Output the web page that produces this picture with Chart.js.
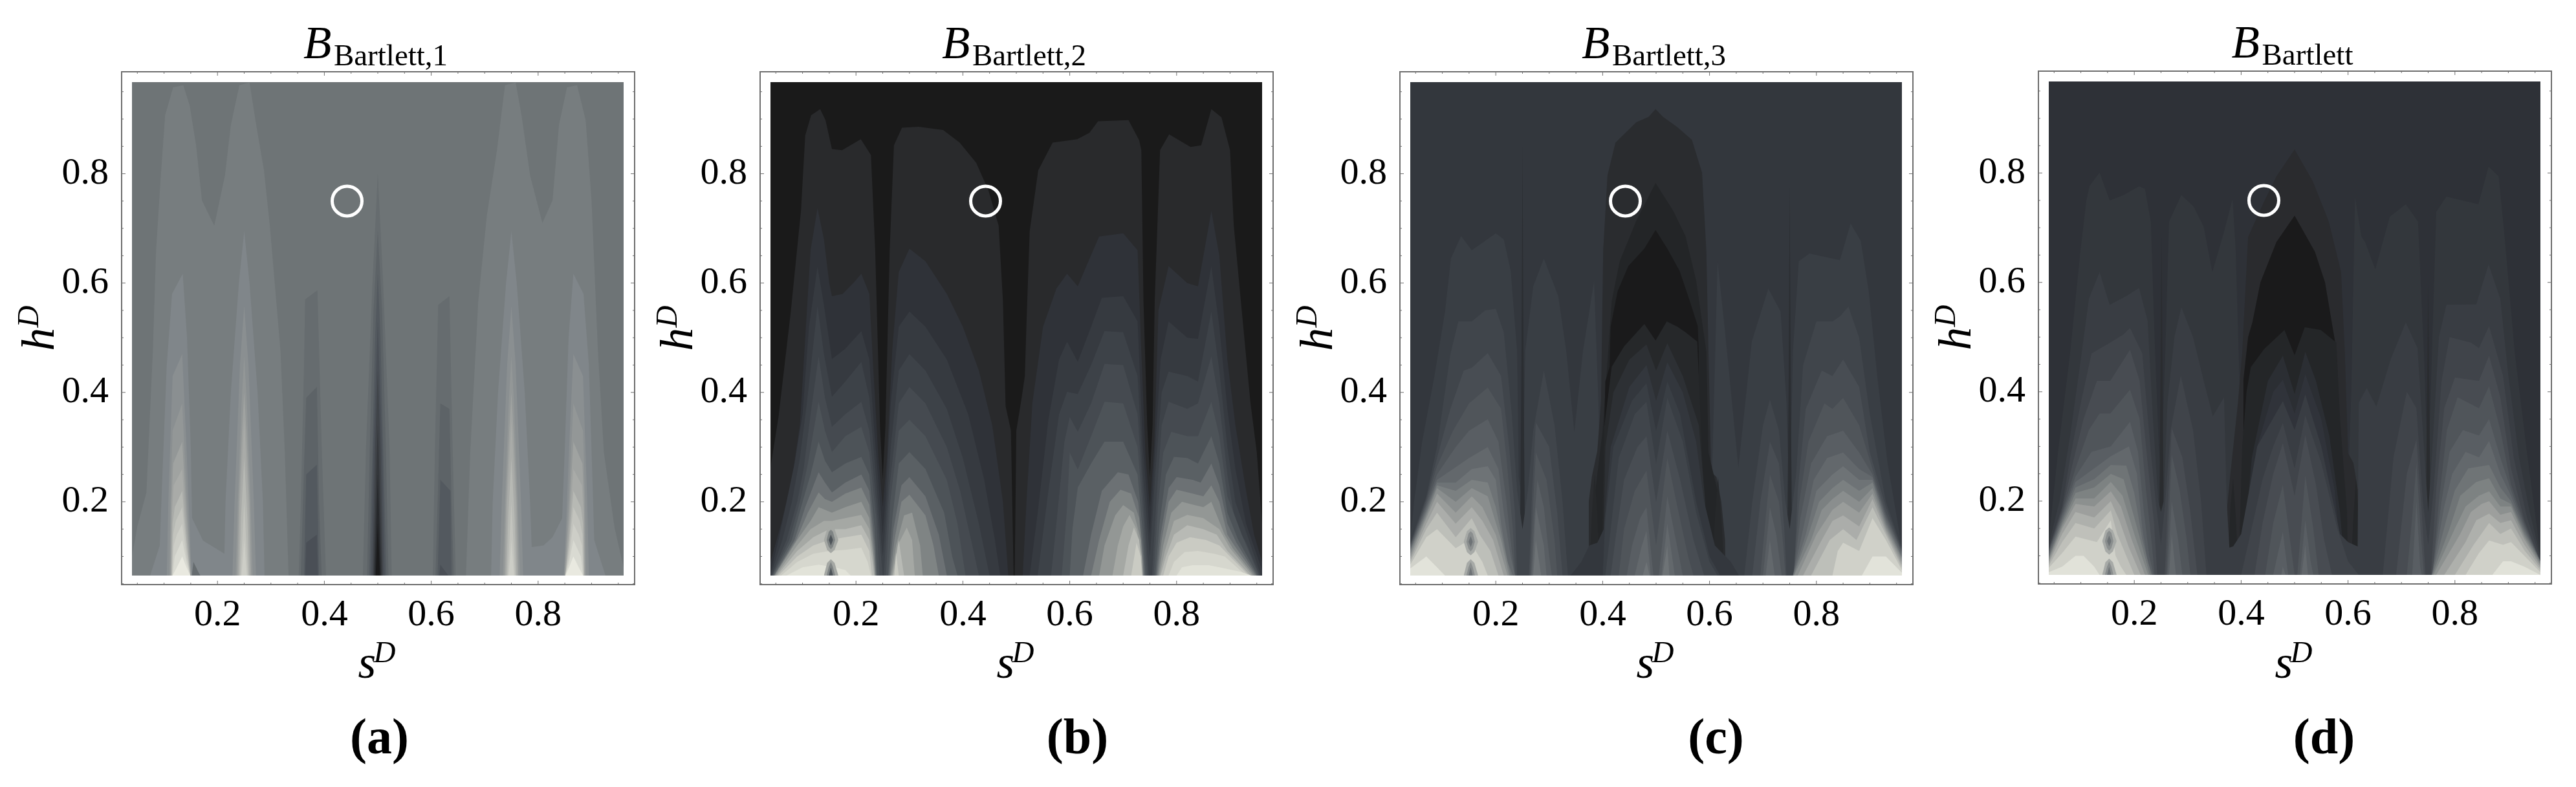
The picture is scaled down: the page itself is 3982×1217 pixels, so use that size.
<!DOCTYPE html>
<html>
<head>
<meta charset="utf-8">
<title>Bartlett contours</title>
<script src="https://cdn.jsdelivr.net/npm/chart.js@4"></script>
<style>
html, body { margin: 0; padding: 0; background: #fff; overflow: hidden; }
canvas { position: absolute; top: 0; }
</style>
</head>
<body>
<script>
// axis values
const tickValues = [0.2, 0.4, 0.6, 0.8];
const minorTicks = [0.05, 0.1, 0.15, 0.25, 0.3, 0.35, 0.45, 0.5, 0.55, 0.65, 0.7, 0.75, 0.85, 0.9, 0.95];
const xLimits = [0.0206, 0.9806];
const yLimits = [0.0485, 0.9864];
const hBase = 0.065;
const hTop = 0.9675;
const markerPoint = [{ x: 0.4425, y: 0.75 }];

// ---- panel (a): contour outlines as [s, h], lowest layer first ----
const contoursA = [
  [[.04,hTop],[.96,hTop]],
  [[.04,.1],[.05,.155],[.067,.217],[.079,.475],[.085,.659],[.094,.797],[.102,.907],[.117,.958],[.136,.962],[.148,.925],[.16,.852],[.171,.751],[.194,.705],[.214,.797],[.225,.889],[.241,.962],[.26,.967],[.271,.898],[.287,.806],[.298,.705],[.318,.475],[.326,.291],[.333,.065],[.665,.065],[.673,.291],[.688,.567],[.704,.723],[.723,.843],[.738,.962],[.758,.967],[.769,.907],[.785,.797],[.808,.71],[.827,.751],[.839,.889],[.854,.958],[.873,.962],[.889,.898],[.9,.751],[.912,.475],[.923,.291],[.943,.153],[.96,.08]],
  [[.074,.065],[.092,.12],[.095,.2],[.105,.45],[.115,.58],[.135,.617],[.143,.5],[.15,.3],[.1525,.17],[.173,.129],[.213,.105],[.215,.2],[.225,.4],[.24,.6],[.25,.695],[.26,.6],[.275,.4],[.285,.2],[.288,.065],[.712,.065],[.715,.2],[.725,.4],[.74,.6],[.75,.695],[.76,.6],[.775,.4],[.785,.2],[.788,.117],[.81,.12],[.827,.135],[.845,.17],[.85,.3],[.857,.5],[.866,.617],[.885,.58],[.895,.45],[.903,.2],[.905,.13],[.926,.065]],
  [[.105,.065],[.108,.2],[.116,.43],[.134,.47],[.142,.3],[.15,.1],[.152,.065],[.228,.065],[.232,.2],[.242,.45],[.25,.558],[.258,.45],[.268,.2],[.272,.065],[.728,.065],[.732,.2],[.742,.45],[.75,.558],[.758,.45],[.768,.2],[.772,.065],[.848,.065],[.85,.1],[.858,.3],[.866,.47],[.884,.43],[.892,.2],[.895,.065]],
  [[.11,.065],[.112,.2],[.116,.33],[.134,.38],[.142,.22],[.15,.08],[.151,.065],[.234,.065],[.238,.2],[.245,.38],[.25,.466],[.255,.38],[.262,.2],[.266,.065],[.734,.065],[.738,.2],[.745,.38],[.75,.466],[.755,.38],[.762,.2],[.766,.065],[.849,.065],[.858,.22],[.866,.38],[.884,.33],[.888,.2],[.89,.065]],
  [[.112,.065],[.114,.2],[.117,.27],[.134,.31],[.142,.18],[.15,.065],[.237,.065],[.24,.2],[.246,.33],[.25,.4],[.254,.33],[.26,.2],[.263,.065],[.737,.065],[.74,.2],[.746,.33],[.75,.4],[.754,.33],[.76,.2],[.763,.065],[.85,.065],[.858,.18],[.866,.31],[.883,.27],[.886,.2],[.888,.065]],
  [[.113,.065],[.115,.18],[.118,.23],[.134,.26],[.142,.15],[.149,.065],[.239,.065],[.242,.2],[.25,.35],[.258,.2],[.261,.065],[.739,.065],[.742,.2],[.75,.35],[.758,.2],[.761,.065],[.851,.065],[.858,.15],[.866,.26],[.882,.23],[.885,.18],[.887,.065]],
  [[.114,.065],[.116,.16],[.12,.19],[.134,.22],[.142,.13],[.149,.065],[.241,.065],[.244,.17],[.25,.28],[.256,.17],[.259,.065],[.741,.065],[.744,.17],[.75,.28],[.756,.17],[.759,.065],[.851,.065],[.858,.13],[.866,.22],[.88,.19],[.884,.16],[.886,.065]],
  [[.115,.065],[.117,.14],[.122,.165],[.134,.19],[.142,.115],[.149,.065],[.243,.065],[.25,.2],[.257,.065],[.743,.065],[.75,.2],[.757,.065],[.851,.065],[.858,.115],[.866,.19],[.878,.165],[.883,.14],[.885,.065]],
  [[.115,.065],[.118,.12],[.124,.14],[.134,.16],[.142,.1],[.149,.065],[.245,.065],[.25,.13],[.255,.065],[.745,.065],[.75,.13],[.755,.065],[.851,.065],[.858,.1],[.866,.16],[.876,.14],[.882,.12],[.885,.065]],
  [[.116,.065],[.12,.1],[.134,.13],[.142,.09],[.149,.065],[.851,.065],[.858,.09],[.866,.13],[.88,.1],[.884,.065]],
  [[.116,.065],[.124,.08],[.134,.1],[.142,.08],[.149,.065],[.851,.065],[.858,.08],[.866,.1],[.876,.08],[.884,.065]],
  [[.152,.065],[.155,.09],[.165,.07],[.168,.065],[.352,.065],[.356,.2],[.362,.45],[.364,.57],[.387,.587],[.395,.3],[.403,.065],[.472,.065],[.478,.3],[.49,.6],[.5,.8],[.51,.6],[.522,.3],[.526,.065],[.603,.065],[.607,.3],[.613,.56],[.634,.576],[.64,.3],[.646,.065]],
  [[.356,.065],[.36,.2],[.366,.39],[.386,.41],[.39,.2],[.395,.065],[.48,.065],[.485,.3],[.492,.55],[.5,.696],[.508,.55],[.515,.3],[.52,.065],[.608,.065],[.612,.2],[.617,.38],[.634,.37],[.638,.2],[.642,.065]],
  [[.362,.065],[.366,.25],[.386,.268],[.39,.065],[.484,.065],[.49,.3],[.495,.5],[.5,.617],[.505,.5],[.51,.3],[.516,.065],[.612,.065],[.617,.24],[.636,.22],[.638,.065]],
  [[.364,.065],[.366,.125],[.386,.14],[.388,.065],[.487,.065],[.492,.3],[.5,.53],[.508,.3],[.513,.065],[.615,.065],[.617,.085],[.632,.065]],
  [[.49,.065],[.495,.3],[.5,.44],[.505,.3],[.51,.065]],
  [[.492,.065],[.497,.25],[.5,.34],[.503,.25],[.508,.065]],
  [[.494,.065],[.5,.25],[.506,.065]],
  [[.496,.065],[.5,.16],[.504,.065]]
];
const coloursA = ['#6e7476','#777d7f','#80868a','#8a8f91','#939797','#a0a3a1','#a9aba8','#b7b9b4','#c3c4be','#cdcec7','#d9dad2','#e9e9e0','#666c6f','#5d6367','#53595f','#4a4f56','#404449','#34373b','#26282b','#1a1a1b'];

// ---- panel (b) ----
const contoursB = [
  [[.04,hTop],[.96,hTop]],
  [[.04,.263],[.055,.355],[.078,.548],[.097,.732],[.105,.87],[.116,.907],[.133,.918],[.143,.898],[.155,.845],[.174,.843],[.209,.863],[.228,.834],[.236,.659],[.245,.337],[.25,.241],[.255,.337],[.263,.659],[.271,.852],[.286,.884],[.317,.886],[.363,.88],[.394,.857],[.425,.82],[.448,.769],[.467,.705],[.475,.567],[.48,.375],[.49,.33],[.495,.065],[.497,.065],[.5,.33],[.51,.39],[.516,.43],[.519,.525],[.525,.695],[.541,.806],[.568,.857],[.614,.863],[.637,.875],[.653,.896],[.71,.898],[.73,.861],[.734,.843],[.738,.567],[.745,.34],[.75,.245],[.755,.34],[.759,.567],[.769,.843],[.786,.872],[.826,.849],[.846,.852],[.865,.918],[.884,.903],[.9,.843],[.907,.705],[.938,.383],[.95,.291],[.96,.16]],
  [[.04,.09],[.06,.16],[.08,.24],[.095,.34],[.105,.5],[.115,.66],[.128,.737],[.14,.68],[.15,.6],[.155,.576],[.175,.58],[.195,.6],[.21,.617],[.225,.58],[.232,.45],[.242,.28],[.25,.19],[.258,.28],[.268,.48],[.28,.62],[.3,.663],[.33,.64],[.37,.58],[.4,.52],[.43,.44],[.455,.34],[.475,.2],[.485,.065],[.512,.065],[.519,.2],[.53,.38],[.55,.52],[.575,.59],[.595,.617],[.615,.594],[.635,.64],[.655,.685],[.7,.691],[.727,.66],[.733,.5],[.742,.28],[.75,.19],[.758,.3],[.766,.55],[.785,.631],[.82,.6],[.84,.594],[.865,.732],[.88,.65],[.895,.46],[.91,.34],[.93,.22],[.945,.14],[.96,.09]],
  [[.04,.07],[.055,.13],[.07,.2],[.085,.27],[.1,.36],[.112,.52],[.128,.63],[.14,.56],[.155,.461],[.18,.48],[.21,.512],[.225,.46],[.235,.32],[.245,.2],[.25,.14],[.255,.2],[.265,.38],[.28,.52],[.3,.548],[.33,.52],[.37,.46],[.41,.36],[.44,.24],[.46,.13],[.47,.065],[.525,.065],[.54,.18],[.56,.35],[.58,.46],[.595,.493],[.615,.456],[.64,.52],[.66,.573],[.7,.576],[.727,.53],[.737,.3],[.75,.14],[.76,.3],[.77,.46],[.785,.53],[.82,.5],[.84,.498],[.865,.631],[.88,.52],[.895,.37],[.91,.26],[.93,.16],[.96,.075]],
  [[.04,.065],[.062,.13],[.08,.2],[.095,.28],[.108,.38],[.128,.558],[.14,.47],[.155,.392],[.18,.42],[.21,.456],[.225,.39],[.237,.25],[.247,.13],[.25,.1],[.253,.13],[.265,.3],[.28,.44],[.3,.47],[.33,.44],[.37,.37],[.4,.28],[.43,.16],[.45,.065],[.54,.065],[.56,.22],[.58,.36],[.595,.401],[.615,.397],[.64,.45],[.665,.512],[.7,.51],[.727,.43],[.737,.25],[.75,.1],[.76,.25],[.772,.4],[.785,.438],[.82,.43],[.84,.42],[.865,.548],[.88,.44],[.895,.3],[.91,.2],[.935,.131],[.958,.065]],
  [[.042,.065],[.07,.13],[.09,.2],[.102,.26],[.115,.36],[.13,.466],[.142,.39],[.155,.337],[.18,.36],[.21,.383],[.225,.33],[.238,.2],[.25,.065],[.252,.065],[.262,.22],[.28,.38],[.3,.41],[.33,.38],[.37,.3],[.395,.22],[.42,.11],[.43,.065],[.565,.065],[.575,.16],[.59,.31],[.6,.355],[.615,.328],[.64,.38],[.665,.452],[.7,.45],[.727,.36],[.738,.2],[.748,.065],[.754,.065],[.762,.2],[.772,.34],[.785,.383],[.82,.37],[.84,.38],[.865,.466],[.88,.38],[.895,.25],[.91,.16],[.93,.125],[.956,.065]],
  [[.043,.065],[.075,.13],[.095,.2],[.11,.27],[.13,.383],[.142,.33],[.155,.291],[.18,.32],[.21,.337],[.225,.29],[.238,.17],[.244,.065],[.256,.065],[.264,.2],[.28,.33],[.3,.35],[.33,.32],[.37,.24],[.39,.16],[.405,.065],[.585,.065],[.595,.19],[.6,.29],[.615,.259],[.64,.32],[.665,.383],[.7,.38],[.727,.3],[.738,.17],[.745,.065],[.757,.065],[.765,.19],[.775,.29],[.79,.328],[.82,.32],[.84,.32],[.865,.383],[.88,.32],[.895,.21],[.922,.14],[.954,.065]],
  [[.044,.065],[.08,.13],[.1,.2],[.115,.25],[.13,.31],[.142,.275],[.155,.254],[.18,.27],[.21,.282],[.225,.25],[.235,.15],[.24,.065],[.26,.065],[.268,.17],[.28,.27],[.3,.291],[.33,.26],[.365,.18],[.38,.1],[.39,.065],[.6,.065],[.605,.15],[.615,.226],[.64,.27],[.665,.31],[.7,.31],[.727,.25],[.737,.14],[.742,.065],[.76,.065],[.768,.16],[.78,.25],[.795,.282],[.82,.28],[.84,.27],[.865,.32],[.88,.27],[.895,.18],[.915,.131],[.952,.065]],
  [[.046,.065],[.085,.13],[.105,.19],[.13,.254],[.142,.235],[.155,.217],[.18,.235],[.21,.25],[.225,.22],[.235,.12],[.238,.065],[.262,.065],[.27,.15],[.285,.23],[.3,.245],[.33,.21],[.355,.14],[.37,.065],[.625,.065],[.64,.14],[.66,.22],[.69,.254],[.71,.25],[.728,.2],[.737,.11],[.74,.065],[.762,.065],[.77,.14],[.785,.225],[.8,.245],[.83,.24],[.845,.235],[.865,.27],[.88,.23],[.895,.16],[.912,.125],[.95,.065]],
  [[.047,.065],[.088,.13],[.11,.18],[.13,.217],[.142,.205],[.155,.2],[.18,.215],[.21,.226],[.225,.195],[.234,.11],[.237,.065],[.264,.065],[.272,.13],[.285,.2],[.3,.213],[.33,.175],[.345,.12],[.355,.065],[.64,.065],[.655,.13],[.675,.2],[.695,.222],[.715,.215],[.73,.17],[.736,.1],[.738,.065],[.764,.065],[.772,.13],[.785,.2],[.8,.222],[.83,.215],[.85,.21],[.865,.23],[.88,.2],[.895,.14],[.908,.12],[.948,.065]],
  [[.048,.065],[.09,.13],[.115,.165],[.13,.19],[.155,.18],[.18,.19],[.21,.2],[.225,.17],[.233,.1],[.236,.065],[.266,.065],[.275,.12],[.29,.175],[.305,.18],[.32,.12],[.325,.065],[.655,.065],[.665,.12],[.685,.175],[.7,.194],[.72,.18],[.733,.13],[.737,.065],[.766,.065],[.775,.12],[.79,.18],[.81,.2],[.83,.195],[.85,.19],[.865,.2],[.89,.14],[.905,.115],[.945,.065]],
  [[.05,.065],[.09,.12],[.115,.15],[.14,.165],[.155,.165],[.18,.17],[.21,.176],[.225,.15],[.232,.1],[.235,.065],[.268,.065],[.278,.12],[.295,.153],[.305,.13],[.31,.065],[.68,.065],[.69,.12],[.7,.155],[.712,.176],[.725,.15],[.735,.1],[.737,.065],[.768,.065],[.778,.11],[.795,.165],[.82,.176],[.85,.17],[.88,.15],[.9,.115],[.942,.065]],
  [[.052,.065],[.09,.11],[.12,.135],[.15,.15],[.18,.15],[.21,.157],[.225,.13],[.231,.09],[.234,.065],[.27,.065],[.28,.13],[.29,.065],[.7,.065],[.71,.12],[.72,.153],[.73,.13],[.736,.065],[.77,.065],[.78,.1],[.795,.14],[.82,.157],[.85,.15],[.875,.14],[.895,.11],[.938,.065]],
  [[.055,.065],[.09,.1],[.12,.12],[.15,.13],[.18,.135],[.21,.14],[.225,.11],[.23,.065],[.272,.065],[.275,.107],[.28,.065],[.715,.065],[.725,.125],[.733,.1],[.735,.065],[.775,.065],[.785,.1],[.8,.125],[.825,.135],[.855,.13],[.88,.12],[.9,.1],[.935,.065]],
  [[.06,.065],[.09,.09],[.12,.105],[.15,.11],[.18,.112],[.21,.116],[.222,.09],[.228,.065],[.785,.065],[.795,.09],[.815,.108],[.84,.11],[.87,.105],[.89,.1],[.93,.065]],
  [[.07,.065],[.1,.08],[.13,.085],[.16,.08],[.18,.075],[.19,.065],[.8,.065],[.81,.08],[.83,.084],[.86,.084],[.88,.08],[.92,.072],[.94,.065]],
  [[.14,.065],[.146,.088],[.153,.095],[.16,.088],[.167,.065]],
  [[.145,.065],[.149,.08],[.153,.09],[.157,.08],[.161,.065]],
  [[.149,.065],[.153,.08],[.157,.065]]
];
const coloursB = ['#1a1a1a','#292a2c','#2f3238','#363a40','#3d4248','#454a50','#4d5358','#5a6064','#6c7174','#7f8484','#939795','#a5a8a4','#b8bab5','#cacbc3','#d6d7ce','#e2e3d9','#a5a8a4','#7f8484','#4d5358'];
const islandsB = [
  [[[.14,.13],[.146,.15],[.153,.157],[.16,.15],[.167,.13]], [[.14,.13],[.146,.112],[.153,.106],[.16,.112],[.167,.13]]],
  [[[.145,.13],[.149,.145],[.153,.149],[.157,.145],[.161,.13]], [[.145,.13],[.149,.118],[.153,.113],[.157,.118],[.161,.13]]],
  [[[.149,.13],[.153,.14],[.157,.13]], [[.149,.13],[.153,.12],[.157,.13]]]
];
const islandColoursB = ['#a5a8a4', '#7f8484', '#4d5358'];

// ---- panel (c) ----
const contoursC = [
  [[.04,hTop],[.96,hTop]],
  [[.04,.125],[.047,.2],[.062,.309],[.085,.429],[.105,.548],[.116,.645],[.135,.686],[.155,.66],[.2,.691],[.215,.68],[.228,.622],[.24,.475],[.243,.245],[.25,.2],[.255,.475],[.27,.594],[.29,.645],[.317,.576],[.332,.475],[.347,.328],[.363,.475],[.384,.604],[.392,.383],[.4,.065],[.6,.065],[.606,.3],[.615,.64],[.629,.512],[.654,.263],[.679,.493],[.71,.59],[.733,.548],[.744,.383],[.748,.245],[.75,.2],[.756,.475],[.767,.64],[.787,.654],[.844,.642],[.864,.709],[.883,.677],[.898,.585],[.914,.429],[.933,.272],[.96,.116]],
  [[.245,.065],[.248,.45],[.25,.852],[.252,.45],[.255,.065],[.745,.065],[.748,.4],[.75,.778],[.752,.4],[.755,.065]],
  [[.374,.065],[.374,.2],[.38,.247],[.39,.293],[.397,.384],[.401,.66],[.409,.797],[.424,.857],[.463,.894],[.486,.904],[.499,.918],[.513,.904],[.54,.885],[.567,.862],[.586,.802],[.594,.659],[.598,.475],[.603,.255],[.613,.245],[.622,.2],[.629,.13],[.63,.065]],
  [[.378,.13],[.384,.2],[.39,.25],[.4,.33],[.405,.4],[.417,.567],[.432,.64],[.463,.714],[.499,.783],[.532,.732],[.555,.686],[.575,.604],[.594,.475],[.598,.29],[.615,.22],[.622,.13]],
  [[.403,.33],[.405,.42],[.413,.447],[.415,.52],[.428,.585],[.448,.631],[.478,.663],[.499,.697],[.521,.663],[.544,.622],[.563,.567],[.578,.521],[.58,.47]],
  [[.375,.065],[.38,.18],[.385,.25],[.39,.18],[.395,.065],[.398,.065],[.4,.2],[.403,.337],[.417,.447],[.44,.484],[.478,.525],[.499,.495],[.52,.53],[.54,.52],[.555,.51],[.577,.493],[.582,.383],[.59,.2],[.598,.065],[.605,.065],[.61,.17],[.616,.245],[.622,.17],[.628,.065]],
  [[.4,.065],[.405,.3],[.42,.4],[.45,.46],[.482,.488],[.5,.44],[.521,.49],[.55,.43],[.58,.34],[.592,.2],[.596,.065]],
  [[.34,.065],[.36,.09],[.375,.12],[.39,.125],[.402,.15],[.415,.3],[.45,.41],[.482,.45],[.5,.385],[.521,.455],[.55,.4],[.575,.31],[.59,.2],[.61,.12],[.625,.105],[.64,.09],[.655,.065]],
  [[.4,.065],[.405,.17],[.42,.3],[.455,.385],[.482,.417],[.5,.33],[.521,.42],[.545,.36],[.575,.2],[.6,.1],[.62,.065]],
  [[.04,.125],[.07,.21],[.09,.3],[.1,.368],[.115,.47],[.13,.53],[.155,.53],[.18,.55],[.2,.553],[.215,.51],[.23,.36],[.24,.22],[.25,.15],[.26,.22],[.27,.33],[.29,.44],[.31,.34],[.325,.2],[.335,.065],[.405,.065],[.415,.15],[.43,.28],[.46,.36],[.482,.383],[.5,.27],[.521,.39],[.55,.31],[.575,.18],[.6,.09],[.615,.065],[.665,.065],[.68,.2],[.7,.34],[.713,.387],[.73,.33],[.742,.2],[.75,.15],[.756,.2],[.762,.25],[.775,.45],[.8,.53],[.83,.53],[.845,.54],[.86,.557],[.88,.5],[.9,.36],[.93,.2],[.96,.115]],
  [[.04,.122],[.07,.205],[.09,.28],[.115,.37],[.14,.44],[.155,.445],[.185,.472],[.21,.43],[.225,.3],[.236,.18],[.24,.065],[.262,.065],[.268,.22],[.275,.345],[.3,.3],[.315,.18],[.325,.065],[.415,.065],[.425,.14],[.44,.24],[.465,.3],[.482,.32],[.5,.2],[.521,.33],[.545,.24],[.57,.13],[.59,.065],[.68,.065],[.695,.2],[.713,.31],[.73,.27],[.74,.15],[.744,.065],[.758,.065],[.765,.22],[.78,.37],[.81,.44],[.83,.43],[.85,.46],[.88,.41],[.9,.29],[.93,.19],[.96,.112]],
  [[.04,.12],[.07,.2],[.09,.265],[.12,.33],[.15,.38],[.185,.409],[.21,.37],[.22,.28],[.232,.15],[.237,.065],[.264,.065],[.27,.2],[.275,.29],[.295,.24],[.31,.13],[.315,.065],[.43,.065],[.44,.15],[.46,.22],[.482,.257],[.5,.12],[.521,.28],[.54,.19],[.56,.1],[.57,.065],[.695,.065],[.705,.17],[.713,.25],[.73,.2],[.738,.12],[.742,.065],[.757,.065],[.768,.2],[.785,.31],[.815,.38],[.83,.37],[.85,.39],[.88,.34],[.905,.26],[.93,.18],[.96,.11]],
  [[.04,.118],[.07,.195],[.09,.25],[.125,.3],[.15,.33],[.185,.351],[.205,.31],[.22,.2],[.23,.11],[.236,.065],[.266,.065],[.272,.17],[.278,.24],[.29,.19],[.3,.1],[.305,.065],[.445,.065],[.455,.12],[.47,.17],[.482,.19],[.495,.065],[.505,.065],[.521,.21],[.535,.14],[.55,.065],[.7,.065],[.708,.14],[.713,.19],[.725,.14],[.735,.065],[.757,.065],[.77,.17],[.79,.27],[.82,.32],[.85,.33],[.88,.29],[.905,.25],[.93,.175],[.96,.108]],
  [[.04,.115],[.07,.19],[.09,.24],[.12,.26],[.15,.28],[.185,.3],[.205,.26],[.215,.18],[.228,.1],[.236,.065],[.268,.065],[.275,.19],[.29,.12],[.295,.065],[.46,.065],[.472,.115],[.482,.147],[.49,.065],[.51,.065],[.521,.16],[.53,.1],[.535,.065],[.705,.065],[.713,.13],[.722,.065],[.756,.065],[.775,.15],[.795,.24],[.82,.28],[.85,.29],[.88,.26],[.905,.245],[.93,.17],[.96,.105]],
  [[.04,.112],[.07,.185],[.09,.235],[.125,.235],[.155,.26],[.185,.265],[.2,.24],[.21,.16],[.222,.09],[.232,.065],[.27,.065],[.275,.13],[.285,.065],[.475,.065],[.482,.09],[.488,.065],[.512,.065],[.521,.12],[.525,.065],[.756,.065],[.78,.14],[.8,.22],[.83,.25],[.85,.265],[.88,.24],[.905,.24],[.93,.165],[.96,.1]],
  [[.04,.11],[.07,.18],[.09,.23],[.125,.22],[.155,.24],[.185,.235],[.2,.19],[.215,.12],[.228,.065],[.757,.065],[.785,.14],[.805,.2],[.83,.225],[.85,.24],[.88,.22],[.905,.235],[.93,.16],[.96,.098]],
  [[.04,.105],[.07,.175],[.09,.225],[.125,.2],[.155,.225],[.185,.21],[.21,.13],[.225,.065],[.758,.065],[.79,.13],[.81,.185],[.83,.205],[.85,.22],[.88,.2],[.905,.225],[.93,.155],[.96,.095]],
  [[.04,.1],[.07,.17],[.09,.215],[.125,.18],[.155,.21],[.175,.19],[.2,.14],[.222,.065],[.765,.065],[.8,.14],[.83,.185],[.85,.2],[.88,.18],[.905,.215],[.93,.15],[.96,.09]],
  [[.04,.095],[.07,.16],[.09,.2],[.125,.16],[.155,.19],[.175,.165],[.195,.13],[.215,.065],[.775,.065],[.81,.13],[.83,.165],[.85,.175],[.88,.155],[.905,.205],[.93,.145],[.96,.085]],
  [[.04,.09],[.07,.15],[.09,.18],[.125,.135],[.155,.17],[.17,.14],[.19,.11],[.205,.065],[.79,.065],[.825,.13],[.85,.15],[.875,.13],[.905,.19],[.93,.14],[.96,.08]],
  [[.04,.085],[.07,.135],[.09,.15],[.125,.115],[.15,.13],[.175,.09],[.185,.065],[.83,.065],[.84,.11],[.85,.125],[.88,.11],[.905,.17],[.93,.13],[.96,.075]],
  [[.04,.078],[.07,.1],[.09,.08],[.105,.065],[.885,.065],[.905,.1],[.93,.1],[.96,.07]],
  [[.14,.065],[.146,.088],[.153,.095],[.16,.088],[.167,.065]],
  [[.145,.065],[.149,.08],[.153,.09],[.157,.08],[.161,.065]],
  [[.149,.065],[.153,.08],[.157,.065]]
];
const coloursC = ['#33373d','#393e44','#2b2e32','#2a2c2f','#232527','#1a1a1b','#26282a','#2d3034','#33373d','#393e44','#40454b','#484d53','#50555a','#595e63','#63686c','#6e7376','#7b8081','#8a8e8e','#9a9d9b','#abadaa','#bdbfb9','#d0d1c9','#e2e3da','#a7aaa7','#8a8e8e','#6e7376'];
const islandsC = [
  [[[.14,.127],[.146,.146],[.153,.152],[.16,.146],[.167,.127]], [[.14,.127],[.146,.108],[.153,.102],[.16,.108],[.167,.127]]],
  [[[.145,.127],[.149,.142],[.153,.146],[.157,.142],[.161,.127]], [[.145,.127],[.149,.114],[.153,.109],[.157,.114],[.161,.127]]],
  [[[.149,.127],[.153,.137],[.157,.127]], [[.149,.127],[.153,.117],[.157,.127]]]
];
const islandColoursC = ['#a7aaa7', '#8a8e8e', '#6e7376'];

// ---- panel (d) ----
const contoursD = [
  [[.04,hTop],[.96,hTop]],
  [[.04,.13],[.057,.288],[.08,.472],[.099,.656],[.11,.748],[.116,.776],[.135,.801],[.154,.75],[.18,.76],[.209,.776],[.22,.771],[.231,.711],[.239,.472],[.246,.3],[.25,.25],[.258,.472],[.265,.711],[.288,.76],[.311,.739],[.33,.702],[.346,.619],[.368,.693],[.384,.753],[.39,.656],[.398,.38],[.405,.065],[.595,.065],[.606,.4],[.613,.757],[.625,.684],[.632,.674],[.651,.624],[.678,.72],[.708,.743],[.731,.711],[.742,.472],[.748,.3],[.75,.25],[.757,.472],[.765,.729],[.784,.757],[.844,.743],[.863,.812],[.882,.794],[.893,.684],[.912,.472],[.935,.288],[.96,.104]],
  [[.246,.065],[.249,.4],[.251,.684],[.253,.4],[.256,.065],[.745,.065],[.748,.4],[.75,.6],[.752,.4],[.755,.065]],
  [[.37,.065],[.372,.17],[.379,.242],[.394,.38],[.402,.472],[.413,.683],[.443,.748],[.466,.794],[.5,.843],[.534,.785],[.564,.711],[.587,.619],[.594,.472],[.6,.288],[.61,.27],[.622,.2],[.63,.12],[.631,.065]],
  [[.404,.42],[.413,.5],[.421,.527],[.436,.6],[.466,.674],[.5,.722],[.538,.656],[.557,.6],[.568,.536],[.576,.49],[.58,.45]],
  [[.375,.065],[.38,.19],[.385,.24],[.39,.17],[.395,.065],[.402,.3],[.41,.4],[.418,.445],[.443,.478],[.481,.513],[.5,.467],[.519,.518],[.549,.513],[.578,.49],[.585,.35],[.598,.18],[.6,.065],[.605,.065],[.61,.17],[.615,.24],[.62,.17],[.625,.065]],
  [[.4,.065],[.42,.28],[.45,.42],[.478,.466],[.5,.396],[.52,.473],[.54,.42],[.565,.32],[.585,.18],[.595,.065]],
  [[.405,.065],[.43,.3],[.46,.4],[.478,.422],[.5,.36],[.52,.432],[.55,.35],[.575,.22],[.59,.065]],
  [[.04,.12],[.06,.2],[.08,.32],[.1,.46],[.115,.57],[.135,.619],[.154,.559],[.185,.575],[.209,.59],[.225,.53],[.235,.35],[.245,.2],[.25,.18],[.255,.2],[.262,.38],[.275,.5],[.288,.555],[.31,.5],[.33,.42],[.347,.355],[.368,.39],[.373,.2],[.378,.115],[.385,.117],[.4,.14],[.43,.3],[.478,.383],[.5,.33],[.52,.395],[.55,.3],[.585,.14],[.6,.125],[.618,.117],[.62,.38],[.635,.407],[.653,.373],[.68,.46],[.708,.527],[.73,.48],[.742,.3],[.75,.18],[.758,.3],[.77,.5],[.784,.559],[.84,.56],[.863,.633],[.885,.57],[.9,.43],[.92,.28],[.94,.18],[.96,.1]],
  [[.04,.115],[.065,.19],[.08,.28],[.1,.38],[.12,.47],[.155,.49],[.18,.505],[.192,.517],[.215,.47],[.23,.3],[.24,.2],[.25,.12],[.258,.2],[.268,.33],[.287,.43],[.31,.33],[.325,.2],[.335,.065],[.4,.065],[.415,.13],[.44,.24],[.46,.3],[.478,.343],[.5,.26],[.52,.357],[.55,.27],[.58,.15],[.6,.09],[.62,.065],[.665,.065],[.685,.28],[.71,.4],[.728,.37],[.74,.2],[.75,.12],[.76,.22],[.775,.42],[.79,.5],[.83,.49],[.845,.48],[.864,.52],[.89,.43],[.91,.28],[.935,.17],[.96,.095]],
  [[.04,.112],[.065,.185],[.085,.27],[.105,.35],[.13,.42],[.155,.42],[.192,.477],[.21,.42],[.225,.27],[.237,.16],[.243,.065],[.257,.065],[.263,.2],[.27,.334],[.29,.28],[.305,.18],[.318,.065],[.425,.065],[.44,.16],[.46,.25],[.478,.306],[.5,.21],[.52,.321],[.54,.23],[.555,.13],[.57,.065],[.69,.065],[.71,.25],[.728,.313],[.738,.18],[.745,.065],[.755,.065],[.765,.22],[.78,.37],[.8,.426],[.845,.42],[.864,.466],[.885,.39],[.905,.26],[.93,.165],[.96,.09]],
  [[.04,.11],[.065,.18],[.09,.26],[.115,.33],[.135,.36],[.155,.36],[.192,.404],[.21,.35],[.222,.22],[.233,.12],[.238,.065],[.26,.065],[.265,.18],[.27,.286],[.285,.22],[.298,.13],[.305,.065],[.445,.065],[.46,.16],[.478,.23],[.49,.14],[.5,.065],[.505,.065],[.52,.247],[.535,.15],[.545,.065],[.71,.065],[.72,.17],[.728,.27],[.737,.13],[.742,.065],[.758,.065],[.77,.2],[.785,.33],[.805,.39],[.845,.37],[.864,.41],[.885,.33],[.905,.23],[.93,.16],[.96,.09]],
  [[.04,.108],[.065,.175],[.09,.245],[.12,.29],[.156,.3],[.192,.345],[.207,.29],[.218,.18],[.228,.1],[.236,.065],[.262,.065],[.27,.2],[.282,.13],[.29,.065],[.46,.065],[.47,.11],[.478,.144],[.488,.065],[.51,.065],[.52,.165],[.53,.09],[.535,.065],[.72,.065],[.728,.2],[.735,.08],[.738,.065],[.757,.065],[.775,.2],[.79,.29],[.815,.33],[.845,.32],[.864,.35],[.885,.28],[.905,.22],[.93,.155],[.96,.09]],
  [[.04,.105],[.065,.17],[.09,.235],[.125,.26],[.156,.282],[.19,.3],[.205,.25],[.215,.15],[.225,.09],[.234,.065],[.265,.065],[.27,.14],[.278,.065],[.475,.065],[.478,.08],[.483,.065],[.513,.065],[.52,.12],[.525,.065],[.757,.065],[.78,.19],[.795,.25],[.82,.29],[.845,.28],[.864,.31],[.885,.25],[.905,.21],[.93,.15],[.96,.09]],
  [[.04,.1],[.065,.165],[.09,.225],[.125,.24],[.156,.266],[.185,.265],[.2,.215],[.215,.13],[.232,.065],[.757,.065],[.785,.17],[.8,.22],[.825,.26],[.864,.266],[.885,.225],[.905,.2],[.93,.145],[.96,.09]],
  [[.04,.097],[.065,.16],[.09,.215],[.125,.225],[.156,.25],[.18,.24],[.2,.17],[.229,.065],[.758,.065],[.79,.15],[.81,.21],[.84,.235],[.864,.242],[.885,.205],[.905,.195],[.93,.14],[.96,.088]],
  [[.04,.094],[.065,.155],[.09,.205],[.125,.205],[.156,.235],[.178,.21],[.2,.14],[.226,.065],[.76,.065],[.8,.15],[.82,.19],[.845,.21],[.864,.218],[.885,.19],[.905,.19],[.93,.135],[.96,.085]],
  [[.04,.09],[.065,.15],[.09,.195],[.125,.19],[.156,.218],[.175,.19],[.195,.13],[.22,.065],[.765,.065],[.81,.14],[.83,.18],[.85,.195],[.864,.2],[.885,.175],[.905,.18],[.93,.13],[.96,.082]],
  [[.04,.086],[.065,.14],[.09,.18],[.125,.17],[.156,.2],[.172,.165],[.19,.115],[.212,.065],[.78,.065],[.82,.125],[.84,.165],[.864,.177],[.885,.16],[.905,.165],[.93,.12],[.96,.078]],
  [[.04,.082],[.065,.125],[.09,.16],[.125,.15],[.156,.183],[.168,.14],[.185,.1],[.2,.065],[.8,.065],[.835,.12],[.864,.16],[.885,.14],[.905,.15],[.93,.11],[.96,.074]],
  [[.04,.078],[.065,.105],[.09,.135],[.13,.125],[.156,.165],[.165,.1],[.175,.08],[.185,.065],[.82,.065],[.845,.105],[.864,.128],[.89,.12],[.905,.125],[.93,.1],[.96,.07]],
  [[.04,.07],[.065,.08],[.09,.1],[.105,.1],[.125,.08],[.135,.065],[.87,.065],[.89,.09],[.905,.09],[.93,.08],[.96,.065]],
  [[.14,.065],[.146,.088],[.153,.095],[.16,.088],[.167,.065]],
  [[.145,.065],[.149,.08],[.153,.09],[.157,.08],[.161,.065]],
  [[.149,.065],[.153,.08],[.157,.065]]
];
const coloursD = ['#2e3137','#33373c','#2a2c2f','#2a2b2e','#1a1a1b','#242628','#2b2e33','#30333a','#393d43','#40444a','#484c52','#50555a','#595e63','#63686c','#6f7476','#7d8282','#8c908f','#9d9f9d','#aeb0ac','#bfc0ba','#d0d1c9','#e1e2d9','#a7aaa7','#8a8e8e','#6e7376'];

// one entry per panel
const panels = [
  { contours: contoursA, colours: coloursA, islands: [], islandColours: [], left: 188, top: 111, bottom: 904, sub: 'Bartlett,1', caption: '(a)', captionOffset: 2 },
  { contours: contoursB, colours: coloursB, islands: islandsB, islandColours: islandColoursB, left: 1175, top: 111, bottom: 904, sub: 'Bartlett,2', caption: '(b)', captionOffset: 94 },
  { contours: contoursC, colours: coloursC, islands: islandsC, islandColours: islandColoursC, left: 2164, top: 111, bottom: 904, sub: 'Bartlett,3', caption: '(c)', captionOffset: 92 },
  { contours: contoursD, colours: coloursD, islands: islandsC, islandColours: islandColoursC, left: 3151, top: 110, bottom: 903, sub: 'Bartlett', caption: '(d)', captionOffset: 45 }
];

const frameWidth = 793;
const yAxisRoom = 170;
const serif = '"Liberation Serif"';

function toPoints(list) {
  return list.map(p => ({ x: p[0], y: p[1] }));
}

function buildDatasets(panel) {
  const sets = [];
  const add = (points, colour, fill) => {
    sets.push({
      data: toPoints(points),
      backgroundColor: colour,
      borderColor: 'rgba(0,0,0,0)',
      borderWidth: 0,
      pointRadius: 0,
      tension: 0,
      fill: fill
    });
  };
  panel.contours.forEach((c, i) => add(c, panel.colours[i], { value: hBase }));
  // closed blobs: upper edge fills down to the lower edge, drawn straight after
  panel.islands.forEach((pair, i) => {
    add(pair[0], panel.islandColours[i], '+1');
    add(pair[1], 'rgba(0,0,0,0)', false);
  });
  // last one painted first would hide everything, so order runs backwards
  sets.forEach((d, i) => { d.order = sets.length - i; });
  sets.push({
    data: markerPoint,
    showLine: false,
    pointRadius: 23,
    pointBorderWidth: 5,
    pointBorderColor: '#ffffff',
    pointBackgroundColor: 'rgba(0,0,0,0)',
    order: 0
  });
  return sets;
}

// frame, small inward ticks and the mixed-style texts
const framePlugin = {
  id: 'framePlugin',
  afterDraw(chart, args, opts) {
    const ctx = chart.ctx;
    const a = chart.chartArea;
    const x = chart.scales.x;
    const y = chart.scales.y;
    ctx.save();
    ctx.strokeStyle = '#6e6e6e';
    ctx.lineWidth = 2;
    ctx.strokeRect(a.left, a.top, a.right - a.left, a.bottom - a.top);

    ctx.lineWidth = 1;
    const mark = (list, len) => {
      ctx.beginPath();
      list.forEach(v => {
        const px = x.getPixelForValue(v);
        const py = y.getPixelForValue(v);
        ctx.moveTo(px, a.top); ctx.lineTo(px, a.top + len);
        ctx.moveTo(px, a.bottom); ctx.lineTo(px, a.bottom - len);
        if (v > y.min && v < y.max) {
          ctx.moveTo(a.left, py); ctx.lineTo(a.left + len, py);
          ctx.moveTo(a.right, py); ctx.lineTo(a.right - len, py);
        }
      });
      ctx.stroke();
    };
    mark(minorTicks, 3);
    mark(tickValues, 6);

    ctx.fillStyle = '#000';
    ctx.textBaseline = 'alphabetic';
    ctx.textAlign = 'left';
    const mid = (a.left + a.right) / 2;

    // title
    const bigItalic = 'italic 71px ' + serif;
    const subFont = '47px ' + serif;
    ctx.font = subFont;
    const subW = ctx.measureText(opts.sub).width;
    const titleX = mid - (47 + subW) / 2 - 4;
    ctx.font = bigItalic;
    ctx.fillText('B', titleX, a.top - 21);
    ctx.font = subFont;
    ctx.fillText(opts.sub, titleX + 47, a.top - 10);

    // s^D under the axis
    ctx.font = bigItalic;
    ctx.fillText('s', mid - 31, 1048);
    ctx.font = 'italic 47px ' + serif;
    ctx.fillText('D', mid - 7, 1024);

    // h^D, rotated
    ctx.save();
    ctx.translate(a.left - 105, (a.top + a.bottom) / 2 + 35);
    ctx.rotate(-Math.PI / 2);
    ctx.font = bigItalic;
    ctx.fillText('h', 0, 0);
    ctx.font = 'italic 47px ' + serif;
    ctx.fillText('D', 36, -24);
    ctx.restore();

    // caption
    ctx.font = 'bold 78px ' + serif;
    ctx.textAlign = 'center';
    ctx.fillText(opts.caption, mid + opts.captionOffset, 1165);
    ctx.restore();
  }
};

Chart.register(framePlugin);

function axis(limits, extra) {
  return Object.assign({
    type: 'linear',
    min: limits[0],
    max: limits[1],
    grid: { display: false },
    border: { display: false },
    afterBuildTicks: scale => { scale.ticks = tickValues.map(v => ({ value: v })); },
    ticks: {
      autoSkip: false,
      maxRotation: 0,
      color: '#000',
      font: { family: serif, size: 58 },
      callback: v => v.toFixed(1)
    }
  }, extra);
}

panels.forEach(panel => {
  const canvas = document.createElement('canvas');
  canvas.width = yAxisRoom + frameWidth + 12;
  canvas.height = 1217;
  canvas.style.left = (panel.left - yAxisRoom) + 'px';
  document.body.appendChild(canvas);

  const xScale = axis(xLimits, { afterFit: s => { s.height = 1217 - panel.bottom; s.paddingLeft = 0; s.paddingRight = 0; } });
  xScale.ticks.padding = 5;
  const yScale = axis(yLimits, { afterFit: s => { s.width = yAxisRoom; s.paddingTop = 0; s.paddingBottom = 0; } });
  yScale.ticks.padding = 12;

  new Chart(canvas.getContext('2d'), {
    type: 'line',
    data: { datasets: buildDatasets(panel) },
    options: {
      responsive: false,
      animation: false,
      events: [],
      // the big ring point would otherwise reserve extra room and shrink the frame
      layout: { autoPadding: false, padding: { left: 0, top: panel.top, right: 12, bottom: 0 } },
      scales: { x: xScale, y: yScale },
      plugins: {
        legend: { display: false },
        tooltip: { enabled: false },
        framePlugin: { sub: panel.sub, caption: panel.caption, captionOffset: panel.captionOffset }
      }
    }
  });
});
</script>
</body>
</html>
